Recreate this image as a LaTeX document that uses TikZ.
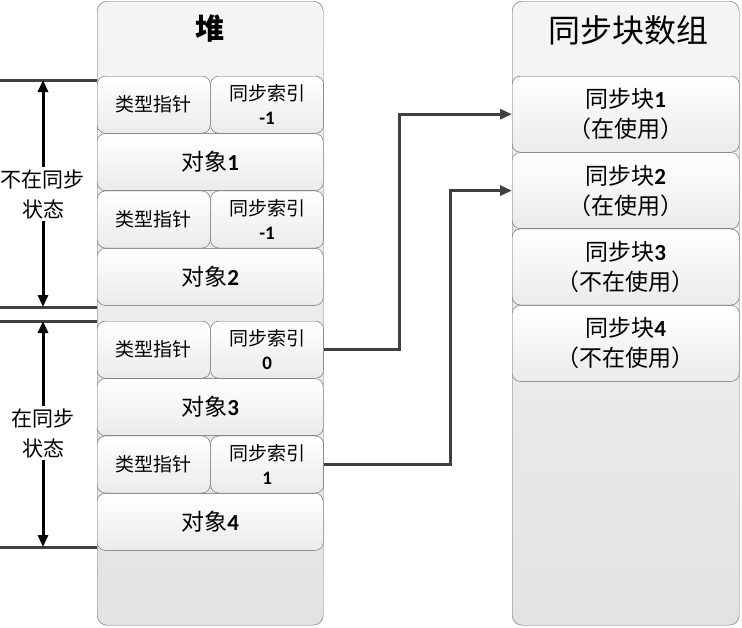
\documentclass[tikz,border=0pt]{standalone}
\usepackage{fontspec}
\setmainfont{Noto Sans CJK SC}
\newfontfamily\numfont{Carlito}
\usetikzlibrary{arrows.meta, positioning, calc}
\definecolor{edgegray}{RGB}{95,95,95}
\definecolor{linkgray}{RGB}{64,64,64}
\newcommand{\dig}[1]{{\numfont\bfseries #1}}

\begin{document}
\begin{tikzpicture}[x=1pt, y=-1pt,
  column/.style={draw=edgegray, rounded corners=10pt, top color=gray!8, bottom color=gray!22, anchor=north west, inner sep=0pt},
  cell/.style={draw=edgegray, rounded corners=8pt, top color=white, bottom color=gray!16, anchor=north west, inner sep=0pt, align=center},
  half/.style={cell, minimum width=113pt, minimum height=57pt, font=\fontsize{19}{24}\selectfont},
  whole/.style={cell, minimum width=226pt, minimum height=57pt, font=\fontsize{23}{26}\selectfont},
  block/.style={cell, minimum width=227pt, minimum height=76pt, font=\fontsize{23}{30}\selectfont},
  bound/.style={line width=3pt, draw=linkgray},
  span/.style={line width=3pt, {Triangle[width=10pt,length=12pt]}-{Triangle[width=10pt,length=12pt]}},
  link/.style={line width=3pt, draw=linkgray, -{Triangle[width=10pt,length=12pt]}},
  state/.style={fill=white, align=center, font=\fontsize{21}{30}\selectfont, inner sep=2pt}]

  \useasboundingbox (0,0) rectangle (742,627);

  % heap
  \node[column, minimum width=226pt, minimum height=624pt] (heap) at (97,1) {};
  \node[font=\fontsize{29}{30}\selectfont\bfseries] (heaptitle) at (210,29) {堆};

  \node[half] (type1) at (97,76) {类型指针};
  \node[half, right=0pt of type1] (sync1) {同步索引\\\dig{-1}};
  \node[whole, below=0pt of type1.south west, anchor=north west] (obj1) {对象\dig{1}};
  \node[half, below=0pt of obj1.south west, anchor=north west] (type2) {类型指针};
  \node[half, right=0pt of type2] (sync2) {同步索引\\\dig{-1}};
  \node[whole, below=0pt of type2.south west, anchor=north west] (obj2) {对象\dig{2}};

  \node[half] (type3) at (97,321) {类型指针};
  \node[half, right=0pt of type3] (sync3) {同步索引\\\dig{0}};
  \node[whole, below=0pt of type3.south west, anchor=north west] (obj3) {对象\dig{3}};
  \node[half, below=0pt of obj3.south west, anchor=north west] (type4) {类型指针};
  \node[half, right=0pt of type4] (sync4) {同步索引\\\dig{1}};
  \node[whole, below=0pt of type4.south west, anchor=north west] (obj4) {对象\dig{4}};

  % sync block array
  \node[column, minimum width=227pt, minimum height=624pt] (array) at (512,1) {};
  \node[font=\fontsize{32}{34}\selectfont] (arraytitle) at (628,30) {同步块数组};

  \node[block] (blk1) at (512,76) {同步块\dig{1}\\（在使用）};
  \node[block, below=0pt of blk1] (blk2) {同步块\dig{2}\\（在使用）};
  \node[block, below=0pt of blk2] (blk3) {同步块\dig{3}\\（不在使用）};
  \node[block, below=0pt of blk3] (blk4) {同步块\dig{4}\\（不在使用）};

  % state marks
  \coordinate (cut1) at (0,80);
  \coordinate (cut2) at (0,307);
  \coordinate (cut3) at (0,321);
  \coordinate (cut4) at (0,547);
  \draw[bound] (cut1) -- (cut1 -| heap.west);
  \draw[bound] (cut2) -- (cut2 -| heap.west);
  \draw[bound] (cut3) -- (cut3 -| heap.west);
  \draw[bound] (cut4) -- (cut4 -| heap.west);
  \draw[span] ([xshift=43pt]cut1) -- ([xshift=43pt]cut2);
  \draw[span] ([xshift=43pt]cut3) -- ([xshift=43pt]cut4);
  \node[state] (nosync) at (43,194) {不在同步\\状态};
  \node[state] (insync) at (43,433) {在同步\\状态};

  % links
  \draw[link] (sync3.east) -- ++(76,0) |- (blk1.west);
  \draw[link] (sync4.east) -- ++(127,0) |- (blk2.west);
\end{tikzpicture}
\end{document}
